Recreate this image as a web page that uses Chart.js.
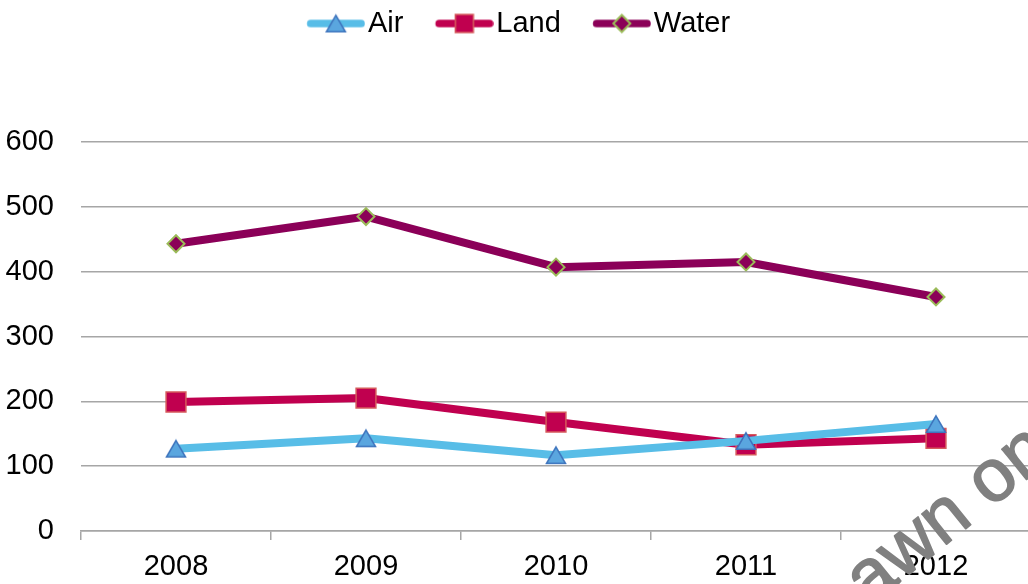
<!DOCTYPE html>
<html><head><meta charset="utf-8">
<script src="https://cdn.jsdelivr.net/npm/chart.js@4/dist/chart.umd.min.js"></script>
<style>
html,body{margin:0;padding:0;background:#fff;overflow:hidden;}
#wrap{width:1032px;height:584px;position:relative;}
</style></head><body>
<div id="wrap"><canvas id="c" width="1032" height="584"></canvas></div>
<script>
const categories = ['2008', '2009', '2010', '2011', '2012'];
const airValues = [127, 143, 117, 139, 165];
const landValues = [199, 205, 168, 133, 143];
const waterValues = [443, 485, 407, 415, 361];
const yTicks = [0, 100, 200, 300, 400, 500, 600];
const seriesNames = ['Air', 'Land', 'Water'];
const watermarkText = 'awn on';

const FONT = '"Liberation Sans", Arial, Helvetica, sans-serif';
const GRID = '#a6a6a6';
const AIR_LINE = '#58bde7', AIR_FILL = '#5aa6df', AIR_EDGE = '#3e74bd';
const LAND_LINE = '#c0004f', LAND_FILL = '#c0004f', LAND_EDGE = '#d55a5c';
const WATER_LINE = '#8b0058', WATER_FILL = '#8b0058', WATER_EDGE = '#9bbb59';

function drawMarker(ctx, kind, cx, cy, fill, edge) {
  ctx.fillStyle = fill; ctx.strokeStyle = edge; ctx.lineJoin = 'miter';
  ctx.beginPath();
  if (kind === 'triangle') {
    const r = 11; const yc = cy + 2.75;
    for (let k = 0; k < 3; k++) {
      const a = k * 2 * Math.PI / 3;
      const px = cx + Math.sin(a) * r, py = yc - Math.cos(a) * r;
      k ? ctx.lineTo(px, py) : ctx.moveTo(px, py);
    }
    ctx.closePath(); ctx.lineWidth = 1.5;
  } else if (kind === 'rect') {
    ctx.rect(cx - 9, cy - 9, 18, 18); ctx.lineWidth = 1.5;
  } else {
    const r = 8.5;
    ctx.moveTo(cx - r, cy); ctx.lineTo(cx, cy - r); ctx.lineTo(cx + r, cy); ctx.lineTo(cx, cy + r);
    ctx.closePath(); ctx.lineWidth = 2;
  }
  ctx.fill(); ctx.stroke();
}

function markerImage(kind, fill, edge) {
  const cv = document.createElement('canvas');
  cv.width = 26; cv.height = 26;
  drawMarker(cv.getContext('2d'), kind, 13, 13, fill, edge);
  return cv;
}
const triangleMarker = markerImage('triangle', AIR_FILL, AIR_EDGE);

function legendImage(lineColor, kind, fill, edge) {
  const cv = document.createElement('canvas');
  cv.width = 92; cv.height = 28;
  const ctx = cv.getContext('2d');
  const lw = 7.7, cy = 14;
  ctx.strokeStyle = lineColor; ctx.lineWidth = lw; ctx.lineCap = 'round';
  ctx.beginPath(); ctx.moveTo(33.75 + lw / 2, cy); ctx.lineTo(91.75 - lw / 2, cy); ctx.stroke();
  drawMarker(ctx, kind, 62.75, cy, fill, edge);
  return cv;
}
const legendImages = [
  legendImage(AIR_LINE, 'triangle', AIR_FILL, AIR_EDGE),
  legendImage(LAND_LINE, 'rect', LAND_FILL, LAND_EDGE),
  legendImage(WATER_LINE, 'diamond', WATER_FILL, WATER_EDGE)
];

const LEGEND_DX = -11, LEGEND_DY = -1;
const tweakPlugin = {
  id: 'tweak',
  afterLayout(chart) {
    const lg = chart.legend;
    if (lg) { lg.left += LEGEND_DX; lg.right += LEGEND_DX; lg.top += LEGEND_DY; lg.bottom += LEGEND_DY; }
  },
  afterDraw(chart) {
    const ctx = chart.ctx;
    ctx.save();
    ctx.translate(869, 607);
    ctx.rotate(-39 * Math.PI / 180);
    ctx.font = '74px ' + FONT;
    ctx.fillStyle = '#808080';
    ctx.strokeStyle = '#808080';
    ctx.lineWidth = 1.6;
    ctx.lineJoin = 'round';
    ctx.textBaseline = 'alphabetic';
    ctx.textAlign = 'left';
    ctx.fillText(watermarkText, 0, 0);
    ctx.strokeText(watermarkText, 0, 0);
    ctx.restore();
  }
};

function series(label, data, line, fill, edge, style, radius, bw) {
  return {
    label, data,
    borderColor: line, borderWidth: 8, borderJoinStyle: 'round', borderCapStyle: 'round',
    pointStyle: style, pointRadius: radius, pointHoverRadius: radius,
    pointBackgroundColor: fill, pointBorderColor: edge, pointBorderWidth: bw,
    tension: 0, fill: false
  };
}

new Chart(document.getElementById('c'), {
  type: 'line',
  data: {
    labels: categories,
    datasets: [
      series(seriesNames[0], airValues, AIR_LINE, AIR_FILL, AIR_EDGE, triangleMarker, 11, 1.5),
      series(seriesNames[1], landValues, LAND_LINE, LAND_FILL, LAND_EDGE, 'rect', 14, 1.5),
      series(seriesNames[2], waterValues, WATER_LINE, WATER_FILL, WATER_EDGE, 'rectRot', 8.5, 2)
    ]
  },
  options: {
    responsive: false,
    animation: false,
    layout: { autoPadding: false, padding: { left: 6, right: 1, top: 0, bottom: 1 } },
    plugins: {
      title: { display: true, text: '', font: { size: 10, lineHeight: 1 }, padding: { top: 0, bottom: 83 }, weight: 500 },
      tooltip: { enabled: false },
      legend: {
        position: 'top',
        labels: {
          usePointStyle: true,
          pointStyleWidth: 68.5,
          padding: 10,
          color: '#000',
          font: { family: FONT, size: 29 },
          generateLabels(chart) {
            const items = Chart.defaults.plugins.legend.labels.generateLabels(chart);
            items.forEach((it, i) => { it.pointStyle = legendImages[i]; });
            return items;
          }
        }
      }
    },
    scales: {
      x: {
        offset: true,
        afterFit(axis) { axis.height = 52; axis.paddingLeft = 0; axis.paddingRight = 0; },
        grid: { offset: true, drawOnChartArea: false, drawTicks: true, tickLength: 9, color: GRID, lineWidth: 1.5 },
        border: { display: true, color: GRID, width: 1.5 },
        ticks: { color: '#000', font: { family: FONT, size: 29 }, padding: 10, maxRotation: 0, autoSkip: false }
      },
      y: {
        min: yTicks[0], max: yTicks[yTicks.length - 1],
        afterBuildTicks(axis) { axis.ticks = yTicks.map(v => ({ value: v })); },
        afterFit(axis) { axis.width = 75; axis.paddingLeft = 0; axis.paddingRight = 0; },
        grid: { color: GRID, lineWidth: 1.5, drawTicks: false },
        border: { display: false },
        ticks: { color: '#000', font: { family: FONT, size: 29 }, padding: 27 }
      }
    }
  },
  plugins: [tweakPlugin]
});
</script>
</body></html>
